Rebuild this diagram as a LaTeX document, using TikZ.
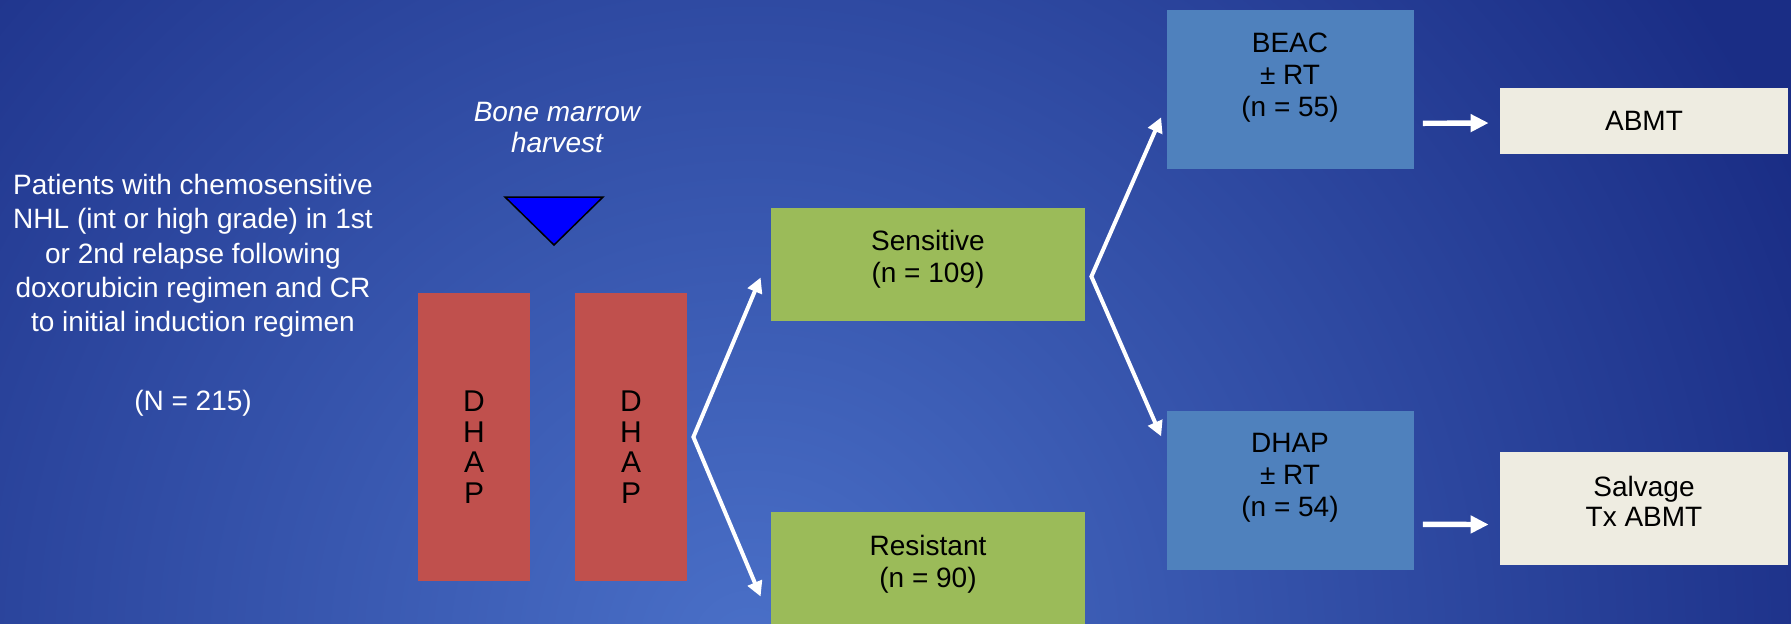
\documentclass[tikz,border=0pt]{standalone}
\usepackage{fontspec}
\setmainfont{Liberation Sans}
\usetikzlibrary{arrows.meta}
\definecolor{bgdark}{HTML}{1A2D85}
\definecolor{bglight}{HTML}{4A70C8}
\definecolor{dhapred}{HTML}{C0504D}
\definecolor{respgreen}{HTML}{9BBB59}
\definecolor{armblue}{HTML}{4F81BD}
\definecolor{abmtbeige}{HTML}{EEECE1}
\definecolor{harvestblue}{HTML}{0000FF}

\begin{document}
\begin{tikzpicture}[x=0.5pt,y=-0.5pt,
  slab/.style={fill=dhapred,minimum width=56pt,minimum height=144pt,inner sep=0pt},
  resp/.style={fill=respgreen,minimum width=157pt,minimum height=56.5pt,inner sep=0pt},
  arm/.style={fill=armblue,minimum width=123.5pt,minimum height=79.5pt,inner sep=0pt},
  outcome/.style={fill=abmtbeige,minimum width=144pt,inner sep=0pt},
  txt/.style={font=\fontsize{14}{16}\selectfont,align=center,inner sep=0pt},
  branch/.style={white,line width=2pt,{Triangle[length=7.5pt,width=7.5pt]}-{Triangle[length=7.5pt,width=7.5pt]}},
  flow/.style={white,line width=2.7pt,-{Triangle[length=9pt,width=8.5pt]}}]

\useasboundingbox (0,0) rectangle (1791,623);
\fill[bgdark] (0,0) rectangle (1791,623);
\begin{scope}
\clip (0,0) rectangle (1791,623);
\shade[inner color=bglight,outer color=bgdark] (750,650) circle (575pt);
\end{scope}

\node[txt,white,font=\fontsize{14}{17.1}\selectfont] (pts) at (193,295.5) {Patients with chemosensitive\\NHL (int or high grade) in 1st\\or 2nd relapse following\\doxorubicin regimen and CR\\to initial induction regimen\\[22.5pt](N = 215)};
\node[txt,white,font=\fontsize{14}{15.5}\selectfont\itshape] (bmh) at (557,127) {Bone marrow\\harvest};
\draw[fill=harvestblue,line width=0.75pt] (505,197) -- (603,197) -- (554,245) -- cycle;

\node[slab] (dhapa) at (474,437) {};
\node[slab] (dhapb) at (631,437) {};
\node[txt,font=\fontsize{15}{15.25}\selectfont] (dhapatxt) at ([yshift=-5pt]dhapa.center) {D\\H\\A\\P};
\node[txt,font=\fontsize{15}{15.25}\selectfont] (dhapbtxt) at ([yshift=-5pt]dhapb.center) {D\\H\\A\\P};

\node[resp] (sens) at (928,264.5) {};
\node[txt] (senstxt) at ([yshift=2.5pt]sens.center) {Sensitive\\(n = 109)};
\node[resp] (resi) at (928,568.5) {};
\node[txt] (resitxt) at ([yshift=2pt]resi.center) {Resistant\\(n = 90)};

\node[arm] (beac) at (1290,89.3) {};
\node[txt] (beactxt) at ([yshift=6pt]beac.center) {BEAC\\± RT\\(n = 55)};
\node[arm] (dhapc) at (1290,490.3) {};
\node[txt] (dhapctxt) at ([yshift=6.2pt]dhapc.center) {DHAP\\± RT\\(n = 54)};

\node[outcome,minimum height=33pt] (abmt) at (1644,121) {};
\node[txt] (abmttxt) at (abmt.center) {ABMT};
\node[outcome,minimum height=56.5pt] (salv) at (1644,508.5) {};
\node[txt,font=\fontsize{14}{15.2}\selectfont] (salvtxt) at ([yshift=3.5pt]salv.center) {Salvage\\Tx ABMT};

\coordinate (fork1) at ([shift={(6,0)}]dhapb.east);
\draw[branch] ([shift={(-10,13)}]sens.west) -- (fork1) -- ([shift={(-10,28)}]resi.west);
\coordinate (fork2) at ([shift={(6,12)}]sens.east);
\draw[branch] ([shift={(-5,28)}]beac.west) -- (fork2) -- ([shift={(-5,-54)}]dhapc.west);
\draw[flow] ([shift={(9,34)}]beac.east) -- ([shift={(-11,2)}]abmt.west);
\draw[flow] ([shift={(9,34)}]dhapc.east) -- ([shift={(-11,16)}]salv.west);
\end{tikzpicture}
\end{document}
